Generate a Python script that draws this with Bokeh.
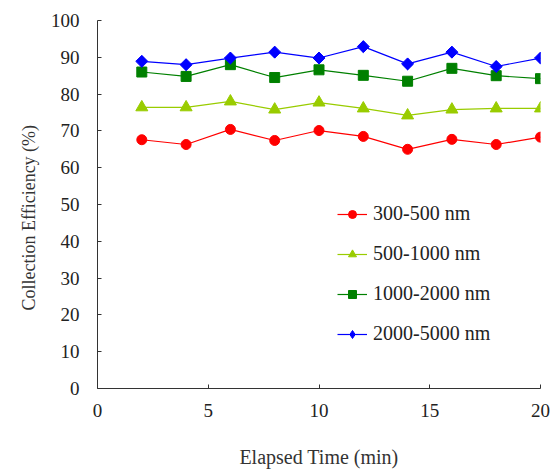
import math
from bokeh.plotting import figure
from bokeh.models import Range1d, FixedTicker, Legend, LegendItem, Title
from bokeh.embed import file_html
from bokeh.resources import INLINE

time_min = [2, 4, 6, 8, 10, 12, 14, 16, 18, 20]
eff_300_500 = [67.6, 66.3, 70.4, 67.4, 70.1, 68.5, 65.0, 67.7, 66.3, 68.3]
eff_500_1000 = [76.4, 76.4, 78.0, 75.8, 77.7, 76.1, 74.2, 75.8, 76.1, 76.1]
eff_1000_2000 = [86.0, 84.8, 88.0, 84.5, 86.6, 85.1, 83.5, 87.0, 85.0, 84.2]
eff_2000_5000 = [88.9, 88.0, 89.8, 91.4, 89.8, 92.9, 88.2, 91.4, 87.5, 89.8]
labels = ["300-500 nm", "500-1000 nm", "1000-2000 nm", "2000-5000 nm"]
x_ticks = [0, 5, 10, 15, 20]
y_ticks = [0, 10, 20, 30, 40, 50, 60, 70, 80, 90, 100]

FONT = "Liberation Serif"

p = figure(width=552, height=470, output_backend="svg", toolbar_location=None,
           x_range=Range1d(0, 20), y_range=Range1d(0, 100),
           min_border_left=97, min_border_right=12, min_border_top=20, min_border_bottom=82)
p.outline_line_color = None
p.background_fill_color = "white"
p.border_fill_color = "white"
p.xgrid.visible = False
p.ygrid.visible = False

for ax in (p.xaxis[0], p.yaxis[0]):
    ax.major_tick_in = 4
    ax.major_tick_out = 0
    ax.minor_tick_in = 0
    ax.minor_tick_out = 0
    ax.axis_line_color = "#333333"
    ax.major_tick_line_color = "#333333"
    ax.major_label_text_font = FONT
    ax.major_label_text_font_size = "19px"
    ax.major_label_text_color = "#222222"
    ax.axis_label_text_font = FONT
    ax.axis_label_text_font_style = "normal"
    ax.axis_label_text_color = "#333333"

p.xaxis.axis_label_text_font_size = "20px"
p.xaxis.ticker = FixedTicker(ticks=x_ticks)
p.yaxis.ticker = FixedTicker(ticks=y_ticks)
p.xaxis.major_label_standoff = 15
p.yaxis.major_label_standoff = 18
p.xaxis.axis_label = "Elapsed Time (min)"
p.xaxis.axis_label_standoff = 26

ytitle = Title(text="Collection Efficiency (%)", align="left", offset=78,
               standoff=18, text_font=FONT, text_font_size="18px",
               text_font_style="normal", text_color="#333333")
p.add_layout(ytitle, "left")

series = [
    (eff_300_500, "#FF0000", "circle", 10),
    (eff_500_1000, "#99CC00", "triangle", 12),
    (eff_1000_2000, "#008000", "square", 10),
    (eff_2000_5000, "#0000FF", "diamond", 11),
]
items = []
for (vals, color, marker, size), lab in zip(series, labels):
    l = p.line(time_min, vals, line_color=color, line_width=1.2)
    s = p.scatter(time_min, vals, marker=marker, size=size,
                  fill_color=color, line_color=color)
    if marker == "diamond":
        # rotated square on top gives the wider diamond look of the original
        p.scatter(time_min, vals, marker="square", size=8.5, angle=math.pi / 4,
                  fill_color=color, line_color=color)
    items.append(LegendItem(label=lab, renderers=[l, s]))

legend = Legend(items=items, location=(240, 43), padding=0, margin=0,
                border_line_color=None, background_fill_alpha=0,
                glyph_width=30, glyph_height=20, label_height=20, spacing=17,
                label_standoff=6, label_text_font=FONT, label_text_font_size="20px",
                label_text_color="#222222")
p.add_layout(legend)

open("out.html", "w").write(file_html(p, INLINE))
